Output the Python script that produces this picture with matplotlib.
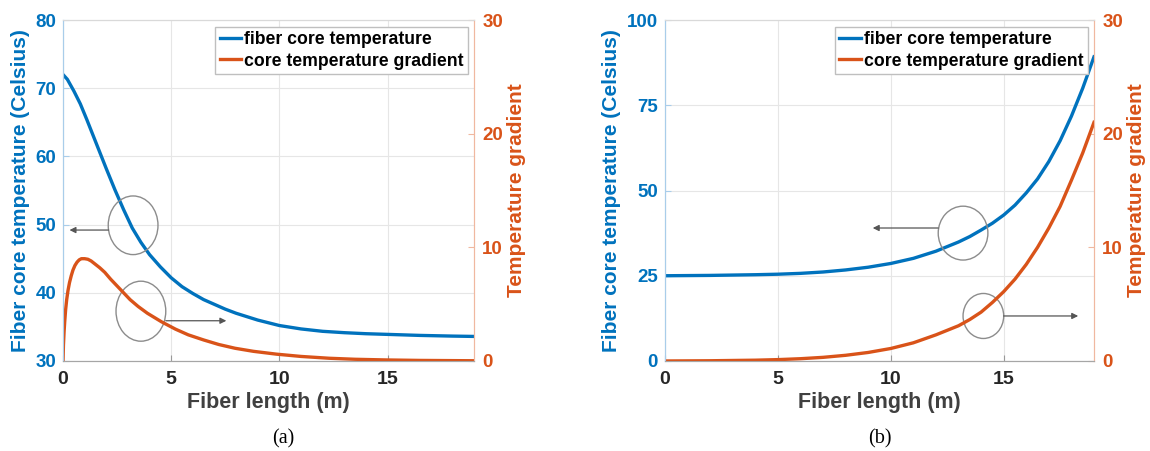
import matplotlib
matplotlib.use('Agg')
import matplotlib.pyplot as plt
from matplotlib.patches import Ellipse

plt.rcParams['font.family'] = ['Liberation Sans', 'DejaVu Sans']
plt.rcParams['font.weight'] = 'bold'

BLUE = '#0072BD'
ORANGE = '#D95319'

# ── panel (a) ───────────────────────────────────────────────────────────────
a_x_temp = [0, 0.2, 0.5, 0.8, 1.1, 1.4, 1.7, 2.0, 2.4, 2.8, 3.2, 3.6, 4.0, 4.5,
            5.0, 5.5, 6.0, 6.5, 7.0, 7.5, 8.0, 9.0, 10.0, 11.0, 12.0, 13.0,
            14.0, 15.0, 16.5, 18.0, 19.0]
a_temp = [72, 71.3, 69.6, 67.7, 65.4, 63.0, 60.6, 58.2, 55.1, 52.2, 49.5, 47.4,
          45.6, 43.8, 42.2, 40.9, 39.9, 39.0, 38.3, 37.6, 37.0, 36.0, 35.2,
          34.7, 34.35, 34.15, 34.0, 33.9, 33.75, 33.65, 33.6]
a_x_grad = [0, 0.02, 0.05, 0.08, 0.12, 0.17, 0.23, 0.3, 0.38, 0.46, 0.55, 0.65,
            0.75, 0.85, 1.0, 1.15, 1.3, 1.5, 1.7, 1.93, 2.2, 2.5, 2.8, 3.1,
            3.47, 3.9, 4.55, 5.2, 5.79, 6.5, 7.2, 7.95, 8.8, 9.87, 11, 12.3,
            13.5, 14.97, 16.5, 19]
a_grad = [0, 1.4, 2.6, 3.5, 4.5, 5.4, 6.2, 6.9, 7.5, 8.0, 8.4, 8.7, 8.9, 9.0,
          9.0, 8.95, 8.8, 8.5, 8.2, 7.8, 7.2, 6.6, 6.0, 5.4, 4.8, 4.2, 3.45,
          2.8, 2.3, 1.85, 1.45, 1.12, 0.85, 0.6, 0.4, 0.24, 0.15, 0.09, 0.05,
          0.02]

# ── panel (b) ───────────────────────────────────────────────────────────────
b_x = [0, 2, 4, 5, 6, 7, 8, 9, 10, 11, 12, 13, 13.5, 14, 14.5, 15, 15.5, 16,
       16.5, 17, 17.5, 18, 18.5, 19]
b_temp = [25, 25.1, 25.3, 25.45, 25.7, 26.1, 26.7, 27.5, 28.6, 30.1, 32.2,
          34.9, 36.5, 38.4, 40.4, 42.8, 45.7, 49.3, 53.4, 58.5, 64.6, 71.8,
          80.0, 89.2]
b_grad = [0, 0.02, 0.07, 0.12, 0.2, 0.32, 0.5, 0.75, 1.1, 1.6, 2.3, 3.1, 3.65,
          4.3, 5.15, 6.1, 7.2, 8.5, 10.0, 11.7, 13.6, 15.9, 18.3, 21.0]

x_ticks = [0, 5, 10, 15]
grad_ticks = [0, 10, 20, 30]
a_temp_ticks = [30, 40, 50, 60, 70, 80]
b_temp_ticks = [0, 25, 50, 75, 100]


def panel(rect, xt, yt, xg, yg, temp_ticks, ellipses, arrows):
    ax = fig.add_axes(rect)
    ax2 = ax.twinx()
    l1, = ax.plot(xt, yt, color=BLUE, lw=2.4, label='fiber core temperature')
    l2, = ax2.plot(xg, yg, color=ORANGE, lw=2.4, label='core temperature gradient')
    ax.set_xlim(0, 19)
    ax.set_ylim(temp_ticks[0], temp_ticks[-1])
    ax2.set_ylim(0, 30)
    ax.set_xticks(x_ticks)
    ax.set_yticks(temp_ticks)
    ax2.set_yticks(grad_ticks)
    ax.grid(True, color='#e6e6e6', lw=0.8)
    ax.set_axisbelow(True)
    ax.tick_params(axis='x', direction='in', length=4, labelsize=14,
                   labelcolor='#262626', color='#999999', pad=7)
    ax.tick_params(axis='y', direction='in', length=4, labelsize=13.5,
                   labelcolor=BLUE, color='#a9cdea', pad=5)
    ax2.tick_params(axis='y', direction='in', length=4, labelsize=13.5,
                    labelcolor=ORANGE, color='#f0b8a0', pad=6)
    for t in ax.get_xticklabels() + ax.get_yticklabels() + ax2.get_yticklabels():
        t.set_fontweight('bold')
    ax.spines['left'].set_color('#a9cdea')
    ax2.spines['left'].set_color('#a9cdea')
    ax2.spines['right'].set_color('#f0b8a0')
    ax.spines['right'].set_color('#f0b8a0')
    for a in (ax, ax2):
        a.spines['bottom'].set_color('#a6a6a6')
        a.spines['top'].set_color('#d9d9d9')
    ax.set_xlabel('Fiber length (m)', fontsize=15.5, fontweight='bold',
                  color='#404040', labelpad=3)
    ax.set_ylabel('Fiber core temperature (Celsius)', fontsize=15,
                  fontweight='bold', color=BLUE, labelpad=4)
    ax2.set_ylabel('Temperature gradient', fontsize=15, fontweight='bold',
                   color=ORANGE, labelpad=3)
    ax2.legend([l1, l2], [l1.get_label(), l2.get_label()], loc='upper right',
               prop={'weight': 'bold', 'size': 12.7},
               handlelength=1.2, handletextpad=0.2, borderpad=0.25,
               labelspacing=0.25, borderaxespad=0, fancybox=False,
               edgecolor='#bfbfbf', framealpha=1,
               bbox_to_anchor=(0.986, 0.98))
    for (cx, cy, w, h) in ellipses:
        ax.add_patch(Ellipse((cx, cy), w, h, fill=False, ec='#8c8c8c', lw=1.0,
                             zorder=5))
    for (x0, x1, y) in arrows:
        ax.annotate('', xy=(x1, y), xytext=(x0, y),
                    arrowprops=dict(arrowstyle='-|>', color='#555555', lw=0.9,
                                    mutation_scale=9, shrinkA=0, shrinkB=0),
                    zorder=5)
    return ax, ax2


fig = plt.figure(figsize=(11.5, 4.51), dpi=100)

panel([0.0548, 0.1996, 0.3574, 0.756], a_x_temp, a_temp, a_x_grad, a_grad,
      a_temp_ticks,
      ellipses=[(3.24, 49.9, 2.3, 8.6), (3.6, 37.3, 2.3, 8.8)],
      arrows=[(2.1, 0.3, 49.2), (4.75, 7.55, 35.9)])

panel([0.5783, 0.1996, 0.373, 0.756], b_x, b_temp, b_x, b_grad,
      b_temp_ticks,
      ellipses=[(13.2, 37.5, 2.2, 15.8), (14.1, 13.2, 1.8, 13.2)],
      arrows=[(12.1, 9.2, 39.0), (15.0, 18.3, 13.2)])

fig.text(0.246, 0.028, '(a)', ha='center', va='center', fontsize=14.5,
         family='Liberation Serif', fontweight='normal')
fig.text(0.765, 0.028, '(b)', ha='center', va='center', fontsize=14.5,
         family='Liberation Serif', fontweight='normal')

fig.savefig('out.png', dpi=100)
